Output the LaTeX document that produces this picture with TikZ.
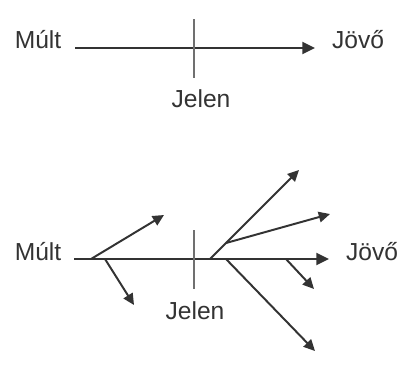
\documentclass[tikz,border=0pt]{standalone}
\usepackage{fontspec}
\setmainfont{Liberation Sans}
\usetikzlibrary{arrows.meta}
\definecolor{inkgray}{HTML}{333333}
\definecolor{tickgray}{HTML}{707070}

\begin{document}
\begin{tikzpicture}[x=0.025cm,y=-0.025cm,
    every node/.style={font=\fontsize{17.5}{21}\selectfont, text=inkgray, anchor=base, inner sep=0pt},
    timeline/.style={line width=1.5pt, draw=inkgray, -{Triangle[length=9pt,width=8.5pt]}},
    branch/.style={line width=1.4pt, draw=inkgray, -{Triangle[length=8pt,width=7.5pt]}},
    nowtick/.style={line width=1.2pt, draw=tickgray}]
       \useasboundingbox (0,0) rectangle (413,371);
       % linear time
       \node (past1)  at ( 38, 48) {Múlt};
       \node (fut1)   at (358, 48) {Jövő};
       \node (now1)   at (201,107) {Jelen};
       \coordinate (s1) at ( 75, 48);
       \coordinate (e1) at (315, 48);
       \coordinate (t1a) at (194, 19);
       \coordinate (t1b) at (194, 78);
       \draw[timeline] (s1) -- (e1);
       \draw[nowtick] (t1a) -- (t1b);
       % branching time
       \node (past2)  at ( 38,260) {Múlt};
       \node (fut2)   at (372,260) {Jövő};
       \node (now2)   at (195,319) {Jelen};
       \coordinate (s2) at ( 74,259);
       \coordinate (e2) at (329,259);
       \coordinate (t2a) at (194,230);
       \coordinate (t2b) at (194,289);
       \draw[timeline] (s2) -- (e2);
       \draw[nowtick] (t2a) -- (t2b);
       \coordinate (b1) at ( 91,259);  \coordinate (f1) at (164,215);
       \coordinate (b2) at (105,259);  \coordinate (f2) at (134,305);
       \coordinate (b3) at (210,259);  \coordinate (f3) at (299,170);
       \coordinate (b4) at (226,243);  \coordinate (f4) at (330,214);
       \coordinate (b5) at (226,259);  \coordinate (f5) at (315,351);
       \coordinate (b6) at (286,259);  \coordinate (f6) at (314,289);
       \draw[branch] (b1) -- (f1);
       \draw[branch] (b2) -- (f2);
       \draw[branch] (b3) -- (f3);
       \draw[branch] (b4) -- (f4);
       \draw[branch] (b5) -- (f5);
       \draw[branch] (b6) -- (f6);
\end{tikzpicture}
\end{document}
